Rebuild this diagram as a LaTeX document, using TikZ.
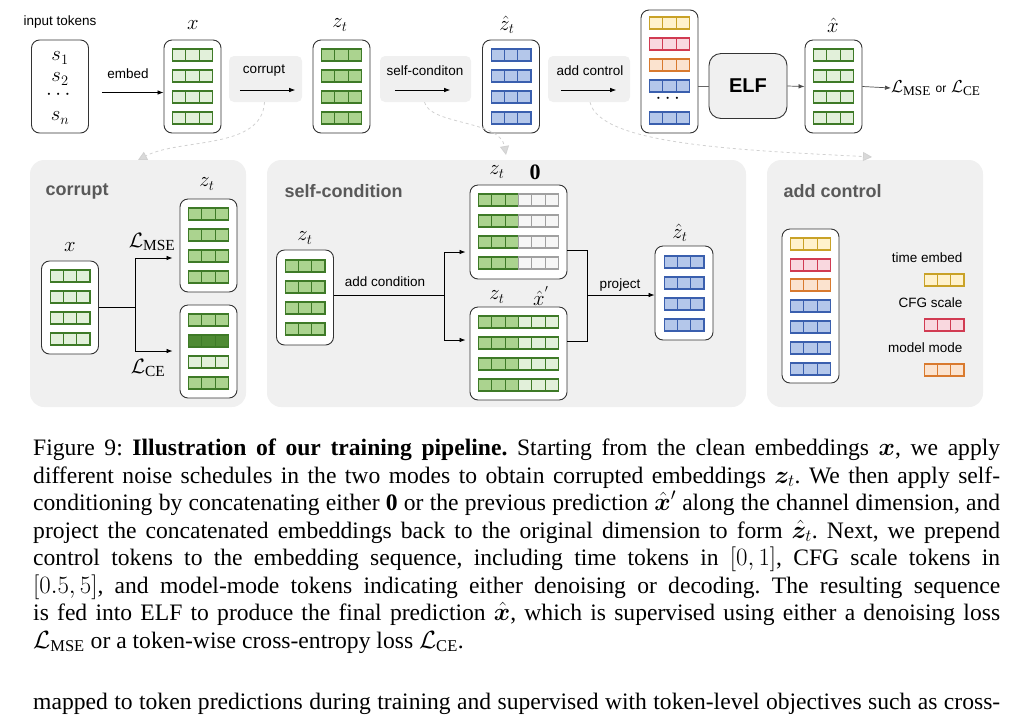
\documentclass[tikz,border=0pt]{standalone}
\usepackage{amsmath,bm}
\usepackage{fontspec}
\setmainfont{Liberation Serif}
\newfontfamily\sans{Liberation Sans}
\usetikzlibrary{arrows.meta}
\frenchspacing
\definecolor{gm}{HTML}{ABD38F}\definecolor{gmd}{HTML}{3E7A27}
\definecolor{gl}{HTML}{E2F0DA}\definecolor{gd}{HTML}{4E8A33}
\definecolor{bf}{HTML}{B4C7EA}\definecolor{bd}{HTML}{3A5FAE}
\definecolor{yf}{HTML}{FFF2CC}\definecolor{yd}{HTML}{C9A227}
\definecolor{rf}{HTML}{F9D8DF}\definecolor{rd}{HTML}{D13B52}
\definecolor{of}{HTML}{FBE3CF}\definecolor{od}{HTML}{D97A2E}
\definecolor{wf}{HTML}{F6F6F6}\definecolor{wd}{HTML}{A0A0A0}
\definecolor{panel}{HTML}{F0F0F0}
\newcommand\cellrow[4]{\foreach \k in {-1,0,1}{\draw[draw=#4,fill=#3,line width=1.1pt] ({#1+\k*13.3-6.65},{#2-6}) rectangle ++(13.3,12);}}
\newcommand\fourrows[4]{\cellrow{#1}{#2}{#3}{#4}\cellrow{#1}{#2+21}{#3}{#4}\cellrow{#1}{#2+42}{#3}{#4}\cellrow{#1}{#2+63}{#3}{#4}}
\tikzset{
 tbox/.style={draw=black!80,rounded corners=8pt,line width=0.9pt,fill=white,minimum width=57pt,minimum height=93pt,inner sep=0},
 graybox/.style={fill=panel,rounded corners=5pt,minimum height=46pt,inner sep=0},
 pnl/.style={fill=panel,rounded corners=14pt},
 lbl/.style={font=\sans\fontsize{13.5}{15}\selectfont},
 ttl/.style={font=\sans\bfseries\fontsize{18}{20}\selectfont,text=black!65,anchor=west},
 mlab/.style={font=\fontsize{22}{24}\selectfont},
 arr/.style={-{Latex[length=6pt,width=4.5pt]},line width=0.7pt},
 dsh/.style={dashed,draw=black!18,line width=0.8pt,-{Triangle[length=9pt,width=9pt,fill=black!15]}},
 captxt/.style={anchor=base west,inner sep=0,font=\fontsize{23.6}{28}\selectfont}
}
\begin{document}
\begin{tikzpicture}[x=1pt,y=-1pt]
\useasboundingbox (0,0) rectangle (1009,724);
% ---------- top row
\node[lbl] (itok) at (60,22) {input tokens};
\node[tbox] (tokbox) at (60,86.5) {};
\node[mlab] at (60,58) {$s_1$};
\node[mlab] at (60,79) {$s_2$};
\node[mlab] at (60,95) {$\cdots$};
\node[mlab] at (60,118) {$s_n$};
\node[tbox] (xb) at (192.5,86.5) {};
\node[mlab] at (193,25) {$x$};
\fourrows{192.5}{55}{gl}{gmd}
\draw[arr] ([xshift=13,yshift=-6]tokbox.east) -- ([yshift=-6]xb.west);
\node[lbl] at (128,74) {embed};
\node[graybox,minimum width=73pt] (corbox) at (265.5,79) {};
\node[lbl] at (264,71) {corrupt};
\draw[arr] ([xshift=11,yshift=-11]corbox.west) -- ([xshift=-7,yshift=-11]corbox.east);
\node[tbox] (zb) at (341.5,86.5) {};
\node[mlab] at (340,25) {$z_t$};
\fourrows{341.5}{55}{gm}{gmd}
\node[graybox,minimum width=91pt] (scbox) at (425.5,79) {};
\node[lbl] at (425,71) {self-conditon};
\draw[arr] ([xshift=15,yshift=-11]scbox.west) -- ([xshift=-21,yshift=-11]scbox.east);
\node[tbox] (zhb) at (511,86.5) {};
\node[mlab] at (507,25) {$\hat z_t$};
\fourrows{511}{55}{bf}{bd}
\node[graybox,minimum width=82pt] (acbox) at (589,79) {};
\node[lbl] at (590,71) {add control};
\draw[arr] ([xshift=13,yshift=-11]acbox.west) -- ([xshift=-14,yshift=-11]acbox.east);
\node[tbox,minimum height=123pt] (cb) at (669.5,71.5) {};
\cellrow{669.5}{23}{yf}{yd}
\cellrow{669.5}{44}{rf}{rd}
\cellrow{669.5}{65}{of}{od}
\cellrow{669.5}{86}{bf}{bd}
\node[mlab] at (669.5,99) {$\cdots$};
\cellrow{669.5}{118}{bf}{bd}
\node[draw=black!80,fill=panel,rounded corners=12pt,line width=0.9pt,minimum width=78pt,minimum height=65pt,font=\sans\bfseries\fontsize{20}{22}\selectfont] (elf) at (748,86) {ELF};
\draw[black!60,line width=0.9pt] (cb.east |- elf.west) -- (elf.west);
\node[tbox] (xhb) at (833.5,86.5) {};
\node[mlab] at (833,25) {$\hat x$};
\fourrows{833.5}{55}{gl}{gmd}
\draw[arr,black!70] (elf.east) -- (xhb.west);
\node[anchor=west,inner sep=0,font=\fontsize{19}{21}\selectfont] (loss) at (891,88) {$\mathcal{L}_{\mathrm{MSE}}$ {\sans\fontsize{12}{14}\selectfont or} $\mathcal{L}_{\mathrm{CE}}$};
\draw[arr,black!70] (xhb.east) -- (loss.west);
% ---------- panels
\node[pnl,minimum width=216pt,minimum height=247pt] (p1) at (138,283.5) {};
\node[pnl,minimum width=479pt,minimum height=247pt] (p2) at (506.5,283.5) {};
\node[pnl,minimum width=216pt,minimum height=247pt] (p3) at (875,283.5) {};
\draw[dsh] ([xshift=-1]corbox.south) .. controls (262,150) and (180,138) .. (138,160);
\draw[dsh] ([xshift=-1]scbox.south) .. controls (430,125) and (500,120) .. (506,155);
\draw[dsh] ([xshift=1]acbox.south) .. controls (600,145) and (740,150) .. (872,157);
% corrupt panel
\node[ttl] at (42,191) {corrupt};
\node[tbox] (cx) at (70,307.5) {};
\node[mlab] at (70,247) {$x$};
\fourrows{70}{276}{gl}{gmd}
\node[tbox] (cz1) at (208.5,245.5) {};
\node[mlab] at (207,184) {$z_t$};
\fourrows{208.5}{214}{gm}{gmd}
\node[tbox] (cz2) at (208.5,351.5) {};
\cellrow{208.5}{320}{gm}{gmd}
\cellrow{208.5}{341}{gd}{gmd}
\cellrow{208.5}{362}{gl}{gmd}
\cellrow{208.5}{383}{gm}{gmd}
\node[mlab] at (152,242) {$\mathcal{L}_{\mathrm{MSE}}$};
\node[mlab] at (148,368) {$\mathcal{L}_{\mathrm{CE}}$};
\coordinate (cj) at (135,307);
\draw[line width=0.7pt] (cx.east |- cj) -- (cj);
\draw[arr] (cj) |- ([xshift=-7]cz1.west |- 0,258);
\draw[arr] (cj) |- ([xshift=-7]cz2.west |- 0,351);
% self-condition panel
\node[ttl] at (281,191) {self-condition};
\node[tbox,minimum height=95pt] (sz) at (305,297.5) {};
\node[mlab] at (305,238) {$z_t$};
\fourrows{305}{266}{gm}{gmd}
\node[tbox,minimum width=97pt,minimum height=94pt] (st) at (518.5,232) {};
\node[mlab] at (497,172) {$z_t$};
\node[mlab] at (535,172) {$\mathbf{0}$};
\foreach \yy in {200,221,242,263}{\cellrow{498.5}{\yy}{gm}{gmd}\cellrow{538.5}{\yy}{wf}{wd}}
\node[tbox,minimum width=97pt,minimum height=93pt] (sb) at (518.5,353.5) {};
\node[mlab] at (497,297) {$z_t$};
\node[mlab] at (541,296) {$\hat x^{'}$};
\foreach \yy in {322,343,364,385}{\cellrow{498.5}{\yy}{gm}{gmd}\cellrow{538.5}{\yy}{gl}{gmd}}
\coordinate (sj) at (444,295);
\draw[line width=0.7pt] (sz.east |- sj) -- (sj);
\node[lbl] at (385,282) {add condition};
\draw[arr] (sj) |- ([xshift=-4]st.west |- 0,252);
\draw[arr] (sj) |- ([xshift=-4]sb.west |- 0,340);
\coordinate (pj) at (587,295);
\draw[line width=0.7pt] (st.east |- 0,250) -| (pj);
\draw[line width=0.7pt] (sb.east |- 0,341) -| (pj);
\node[tbox,minimum width=58pt,minimum height=94pt] (szh) at (684,293) {};
\node[mlab] at (680,233) {$\hat z_t$};
\fourrows{684}{262}{bf}{bd}
\draw[arr] (pj) -- (szh.west |- pj);
\node[lbl] at (620,285) {project};
% add control panel
\node[ttl] at (780,191) {add control};
\node[tbox,minimum height=154pt] (ac) at (810.5,306) {};
\cellrow{810.5}{244}{yf}{yd}
\cellrow{810.5}{265}{rf}{rd}
\cellrow{810.5}{285}{of}{od}
\cellrow{810.5}{306}{bf}{bd}
\cellrow{810.5}{327}{bf}{bd}
\cellrow{810.5}{348}{bf}{bd}
\cellrow{810.5}{369}{bf}{bd}
\node[lbl,anchor=east] at (966,258) {time embed};
\cellrow{944}{280}{yf}{yd}
\node[lbl,anchor=east] at (966,303) {CFG scale};
\cellrow{944}{325}{rf}{rd}
\node[lbl,anchor=east] at (966,348) {model mode};
\cellrow{944}{370}{of}{od}
% ---------- caption
\node[captxt] at (33,455) {\makebox[967pt][s]{Figure 9: \textbf{Illustration of our training pipeline.} Starting from the clean embeddings $\bm{x}$, we apply}};
\node[captxt] at (33,483) {\makebox[967pt][s]{different noise schedules in the two modes to obtain corrupted embeddings $\bm{z}_t$. We then apply self-}};
\node[captxt] at (33,510) {\makebox[967pt][s]{conditioning by concatenating either $\mathbf{0}$ or the previous prediction $\hat{\bm{x}}'$ along the channel dimension, and}};
\node[captxt] at (33,538) {\makebox[967pt][s]{project the concatenated embeddings back to the original dimension to form $\hat{\bm{z}}_t$. Next, we prepend}};
\node[captxt] at (33,565) {\makebox[967pt][s]{control tokens to the embedding sequence, including time tokens in $[0,1]$, CFG scale tokens in}};
\node[captxt] at (33,593) {\makebox[967pt][s]{$[0.5,5]$, and model-mode tokens indicating either denoising or decoding. The resulting sequence}};
\node[captxt] at (33,620) {\makebox[967pt][s]{is fed into ELF to produce the final prediction $\hat{\bm{x}}$, which is supervised using either a denoising loss}};
\node[captxt] at (33,648) {$\mathcal{L}_{\mathrm{MSE}}$ or a token-wise cross-entropy loss $\mathcal{L}_{\mathrm{CE}}$.};
\node[captxt] at (33,709) {\makebox[967pt][s]{mapped to token predictions during training and supervised with token-level objectives such as cross-}};
\end{tikzpicture}
\end{document}
